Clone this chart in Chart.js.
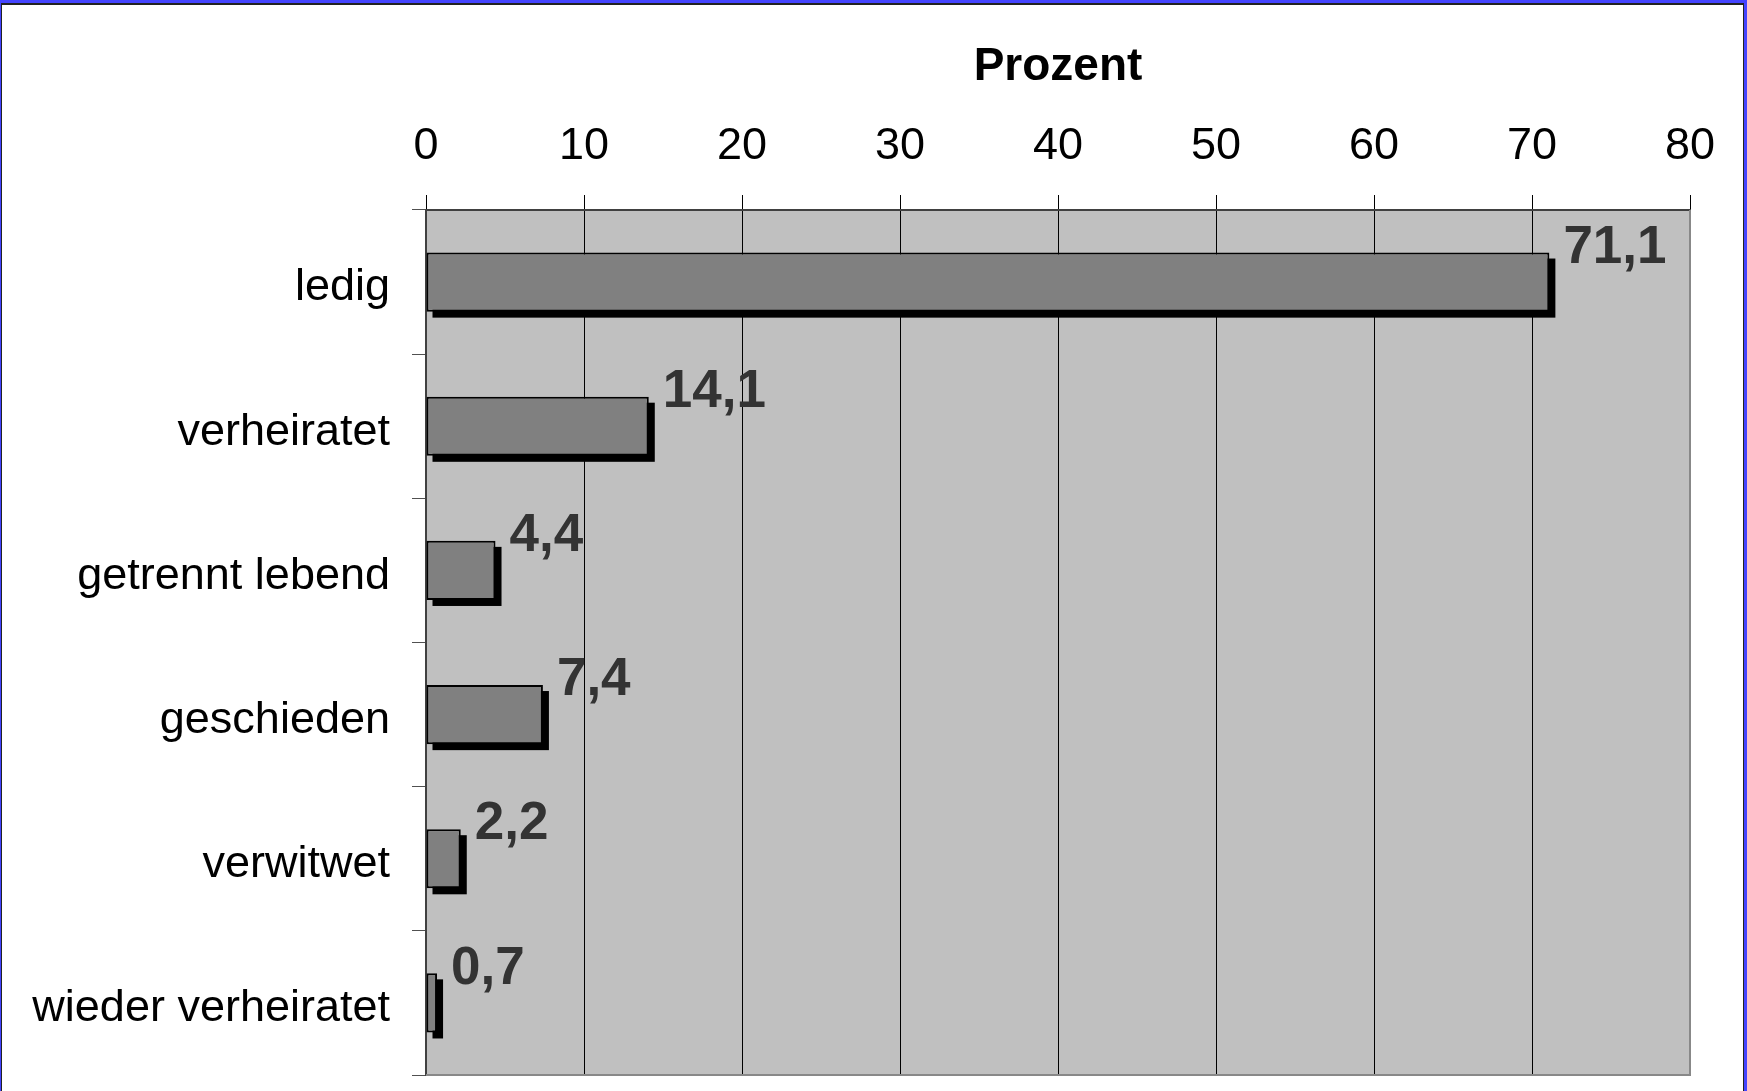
<!DOCTYPE html>
<html>
<head>
<meta charset="utf-8">
<script src="https://cdn.jsdelivr.net/npm/chart.js@4"></script>
<style>
  html, body { margin: 0; padding: 0; background: #fff; overflow: hidden; }
  #wrap { position: relative; width: 1747px; height: 1091px; }
  #chart { position: absolute; left: 0; top: 0; }
  #frameOuter { position: absolute; left: 0; top: 0; width: 1747px; height: 1091px; box-sizing: border-box;
    border-top: 3px solid #4444FF; border-left: 1px solid #4444FF; border-right: 3px solid #4444FF; pointer-events: none; }
  #frameInner { position: absolute; left: 0; top: 0; right: 0; bottom: -2px; box-sizing: border-box;
    border-top: 2px solid #222; border-left: 1px solid #222; border-right: 1px solid #222; }
</style>
</head>
<body>
<div id="wrap">
  <canvas id="chart" width="1747" height="1091"></canvas>
  <div id="frameOuter"><div id="frameInner"></div></div>
</div>
<script>
const categories = ['ledig', 'verheiratet', 'getrennt lebend', 'geschieden', 'verwitwet', 'wieder verheiratet'];
const values = [71.1, 14.1, 4.4, 7.4, 2.2, 0.7];
const valueLabels = ['71,1', '14,1', '4,4', '7,4', '2,2', '0,7'];
const axisTitle = 'Prozent';
const xMin = 0, xMax = 80, xStep = 10;

const FONT = '"Liberation Sans", Arial, Helvetica, sans-serif';
Chart.defaults.font.family = FONT;

const plotBackground = {
  id: 'plotBackground',
  beforeDraw(chart) {
    const {ctx, chartArea: a} = chart;
    ctx.save();
    ctx.fillStyle = '#C0C0C0';
    ctx.fillRect(a.left, a.top, a.right - a.left, a.bottom - a.top);
    ctx.restore();
  },
  beforeDatasetsDraw(chart) {
    const {ctx, chartArea: a} = chart;
    ctx.save();
    ctx.strokeStyle = '#888888';
    ctx.lineWidth = 2;
    ctx.beginPath();
    ctx.moveTo(a.right, a.top);
    ctx.lineTo(a.right, a.bottom);
    ctx.moveTo(a.left, a.bottom);
    ctx.lineTo(a.right + 1, a.bottom);
    ctx.stroke();
    // bar shadows
    const meta = chart.getDatasetMeta(0);
    ctx.fillStyle = '#000';
    meta.data.forEach(bar => {
      const p = bar.getProps(['x', 'y', 'base', 'height'], true);
      const left = Math.min(p.base, p.x), right = Math.max(p.base, p.x);
      ctx.fillRect(left + 6, p.y - p.height / 2 + 6, right - left, p.height);
    });
    ctx.restore();
  },
  afterDatasetsDraw(chart) {
    const {ctx} = chart;
    const meta = chart.getDatasetMeta(0);
    ctx.save();
    ctx.fillStyle = '#333333';
    ctx.font = 'bold 53px ' + FONT;
    ctx.textAlign = 'left';
    ctx.textBaseline = 'middle';
    meta.data.forEach((bar, i) => {
      const p = bar.getProps(['x', 'y'], true);
      ctx.fillText(valueLabels[i], p.x + 14, p.y - 34);
    });
    ctx.restore();
  }
};

new Chart(document.getElementById('chart'), {
  type: 'bar',
  data: {
    labels: categories,
    datasets: [{
      data: values,
      backgroundColor: '#808080',
      borderColor: '#000000',
      borderWidth: 2,
      borderSkipped: false,
      barPercentage: 0.41,
      categoryPercentage: 1
    }]
  },
  options: {
    indexAxis: 'y',
    responsive: false,
    animation: false,
    layout: { padding: { top: 0, left: 0, right: 57, bottom: 16 } },
    plugins: { legend: { display: false }, tooltip: { enabled: false } },
    scales: {
      x: {
        position: 'top',
        min: xMin, max: xMax,
        ticks: { stepSize: xStep, color: '#000', font: { size: 45 }, padding: 21 },
        grid: { color: '#000', lineWidth: 1, tickLength: 15 },
        border: { display: true, color: '#404040', width: 2 },
        title: { display: true, text: axisTitle, color: '#000', font: { size: 46, weight: 'bold' }, padding: { top: 40, bottom: 0 } },
        afterFit(s) { s.height = 210; s.paddingLeft = 0; s.paddingRight = 0; }
      },
      y: {
        ticks: { color: '#000', font: { size: 45 }, padding: 22, labelOffset: 6 },
        grid: { drawOnChartArea: false, tickLength: 14, color: '#505050', lineWidth: 1 },
        border: { display: true, color: '#404040', width: 2 },
        afterFit(s) { s.width = 426; s.paddingTop = 0; s.paddingBottom = 0; }
      }
    }
  },
  plugins: [plotBackground]
});
</script>
</body>
</html>
